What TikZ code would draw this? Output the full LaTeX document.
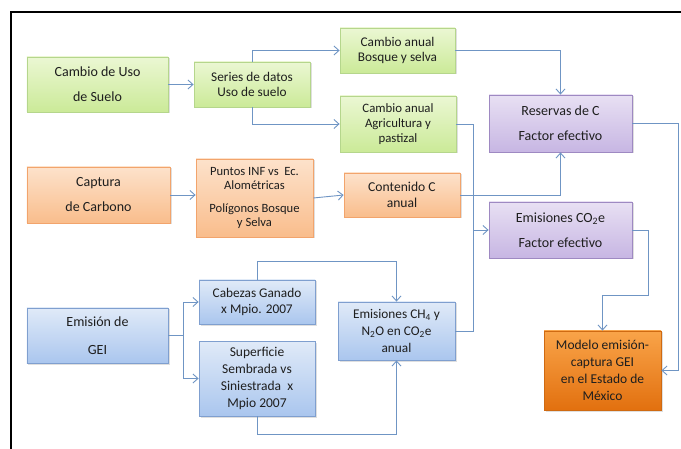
\documentclass[tikz,border=0pt]{standalone}
\usepackage{fontspec}
\setmainfont{Carlito}
\usetikzlibrary{arrows.meta,shadows,calc}
\definecolor{gTop}{HTML}{EBF7D3}
\definecolor{gBot}{HTML}{CBEA98}
\definecolor{gBrd}{HTML}{B5D68C}
\definecolor{oTop}{HTML}{FDE2CB}
\definecolor{oBot}{HTML}{F9BD8C}
\definecolor{oBrd}{HTML}{F2A46C}
\definecolor{bTop}{HTML}{E0EAF8}
\definecolor{bBot}{HTML}{AAC6EE}
\definecolor{bBrd}{HTML}{7F9FCF}
\definecolor{pTop}{HTML}{E8E0F3}
\definecolor{pBot}{HTML}{C7B6E3}
\definecolor{pBrd}{HTML}{9E89C2}
\definecolor{dTop}{HTML}{F9A449}
\definecolor{dBot}{HTML}{E2700F}
\definecolor{dBrd}{HTML}{CF6A12}
\definecolor{lnk}{HTML}{6F95C4}
\definecolor{txt}{HTML}{1E1E1E}
\tikzset{
  box/.style={rectangle, draw, line width=0.8bp, align=center, text=txt,
    font=\fontsize{13.3bp}{15.5bp}\selectfont, inner sep=2bp,
    drop shadow={shadow xshift=1.5bp, shadow yshift=-1.5bp, opacity=0.25}},
  big/.style={font=\fontsize{14bp}{16bp}\selectfont},
  gbox/.style={box, draw=gBrd, top color=gTop, bottom color=gBot},
  obox/.style={box, draw=oBrd, top color=oTop, bottom color=oBot},
  bbox/.style={box, draw=bBrd, top color=bTop, bottom color=bBot},
  pbox/.style={box, draw=pBrd, top color=pTop, bottom color=pBot},
  dbox/.style={box, draw=dBrd, top color=dTop, bottom color=dBot},
  arr/.style={draw=lnk, line width=0.9bp, -{Straight Barb[length=5bp,width=9bp,line width=0.9bp]}},
  lin/.style={draw=lnk, line width=0.9bp}
}
\begin{document}
\begin{tikzpicture}[x=1bp,y=-1bp]
\useasboundingbox (0,0) rectangle (681,449);
\fill[white] (0,0) rectangle (681,449);
% frame
\draw[black, line width=2.6bp] (11,449) -- (11,12) -- (681,12);

% nodes
\node[gbox, big, minimum width=141bp, minimum height=55bp] (b1) at (97.5,84.5) {Cambio de Uso\\[9bp]de Suelo};
\node[gbox, minimum width=116bp, minimum height=45bp] (b2) at (252,84.5) {Series de datos\\Uso de suelo};
\node[gbox, minimum width=115bp, minimum height=45bp] (b3) at (397.5,50.5) {Cambio anual\\Bosque y selva};
\node[gbox, minimum width=116bp, minimum height=56bp, font=\fontsize{12.8bp}{15bp}\selectfont] (b4) at (398,124) {Cambio anual\\Agricultura y\\pastizal};
\node[pbox, big, minimum width=143bp, minimum height=57bp] (b5) at (560.5,123.5) {Reservas de C\\[9bp]Factor efectivo};
\node[obox, big, minimum width=143bp, minimum height=56bp] (b6) at (98.5,195) {Captura\\[9bp]de Carbono};
\node[obox, minimum width=117bp, minimum height=78bp, font=\fontsize{12.6bp}{14.5bp}\selectfont] (b7) at (254.5,198) {Puntos INF vs~~Ec.\\Alométricas\\[8bp]Polígonos Bosque\\y Selva};
\node[obox, minimum width=116bp, minimum height=44bp, font=\fontsize{13.6bp}{15.5bp}\selectfont] (b8) at (402,195) {Contenido C\\anual};
\node[pbox, big, minimum width=143bp, minimum height=56bp] (b9) at (560.5,230) {Emisiones CO\textsubscript{2}e\\[9bp]Factor efectivo};
\node[bbox, big, minimum width=141bp, minimum height=55bp] (b10) at (97.5,335.5) {Emisión de\\[12bp]GEI};
\node[bbox, minimum width=116bp, minimum height=44bp] (b11) at (257,302) {Cabezas Ganado\\x Mpio. 2007};
\node[bbox, minimum width=116bp, minimum height=75bp, font=\fontsize{13.5bp}{17bp}\selectfont] (b12) at (257,378.5) {Superficie\\Sembrada vs\\Siniestrada~ x\\Mpio 2007};
\node[bbox, minimum width=117bp, minimum height=58bp, font=\fontsize{13.3bp}{17bp}\selectfont] (b13) at (396.5,331) {Emisiones CH\textsubscript{4} y\\N\textsubscript{2}O en CO\textsubscript{2}e\\anual};
\node[dbox, minimum width=117bp, minimum height=79bp, font=\fontsize{13.5bp}{17bp}\selectfont] (b14) at (602.5,370.5) {Modelo emisión-\\captura GEI\\en el Estado de\\México};

% junction coordinates
\coordinate (j1) at (473,230);
\coordinate (s1) at (183,335.5);

% connectors
\draw[arr] (b1) -- (b2);
\draw[arr] (b2.north) |- (b3.west);
\draw[arr] (b2.south) |- (b4.west);
\draw[arr] (b3.east) -| (b5.north);
\draw[arr] (b8.east) -| (b5.south);
\draw[arr] (b6.east) -- (b6.east -| b7.west);
\draw[arr] (b7.east) -- (b8.west);
\draw[lin] (b4.east) -| (j1);
\draw[lin] (b13.east) -| (j1);
\draw[arr] (j1) -- (b9.west);
\draw[arr] (b5.east) -- ++(46,0) |- (b14.east);
\draw[arr] (b9.east) -| (648,295) -| (b14.north);
\draw[lin] (b10.east) -- (s1);
\draw[arr] (s1) |- (b11.west);
\draw[arr] (s1) |- (b12.west);
\draw[arr] (b11.north) -- ++(0,-18) -| (b13.north);
\draw[arr] (b12.south) -- ++(0,18) -| (b13.south);
\end{tikzpicture}
\end{document}
